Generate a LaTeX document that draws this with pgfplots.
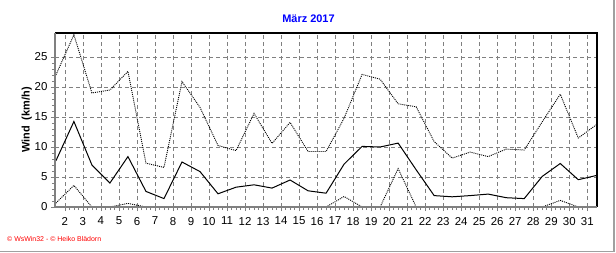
\documentclass[border=0pt]{standalone}
\usepackage{fontspec}
\setmainfont{Liberation Sans}
\usepackage{pgfplots}
\pgfplotsset{compat=1.18}
\definecolor{gridgray}{RGB}{128,128,128}
\definecolor{axgray}{RGB}{128,128,128}
\definecolor{framegray}{RGB}{160,160,160}
\definecolor{titleblue}{RGB}{0,0,255}
\definecolor{footred}{RGB}{255,0,0}
\pgfplotstableread{
x max mean min
1.5 22.0 7.7 0.65
2.5 28.7 14.25 3.6
3.5 19.0 7.0 0
4.5 19.5 4.0 0
5.5 22.6 8.4 0.6
6.5 7.3 2.6 0
7.5 6.6 1.4 0
8.5 20.9 7.5 0
9.5 16.6 5.9 0
10.5 10.25 2.2 0
11.5 9.4 3.3 0
12.5 15.6 3.7 0
13.5 10.6 3.15 0
14.5 14.1 4.5 0
15.5 9.25 2.7 0
16.5 9.25 2.3 0
17.5 14.8 7.15 1.75
18.5 22.1 10.1 0
19.5 21.3 10.0 0
20.5 17.2 10.65 6.4
21.5 16.7 6.2 0
22.5 10.9 1.9 0
23.5 8.15 1.7 0
24.5 9.15 1.9 0
25.5 8.4 2.15 0
26.5 9.65 1.55 0
27.5 9.5 1.4 0
28.5 14.2 5.1 0
29.5 18.8 7.25 1.1
30.5 11.5 4.55 0
31.5 13.7 5.25 0
}\windtable
\begin{document}
\begin{tikzpicture}
\path[use as bounding box] (0bp,0bp) rectangle (616bp,253bp);
\draw[framegray, line width=1.5bp] (0bp,1.5bp) -- (614bp,1.5bp) -- (614bp,253bp);
\begin{axis}[
  at={(55bp,220bp)}, anchor=north west,
  scale only axis, width=542bp, height=174bp,
  xmin=1.45, xmax=31.54, ymin=0, ymax=29,
  xtick={2,...,31}, ytick={0,5,...,25},
  minor x tick num=3, minor y tick num=4,
  grid=major,
  major grid style={gridgray, dash pattern=on 4bp off 3bp, line width=0.8bp},
  axis line style={draw=none},
  tick align=outside,
  major tick length=4bp, minor tick length=3bp,
  tick style={axgray, line width=0.8bp},
  xtick pos=bottom, ytick pos=left,
  /pgf/number format/assume math mode=true,
  tick label style={font=\fontsize{11.5}{13}\selectfont},
  xticklabel style={yshift=-2.5bp},
  yticklabel style={xshift=0bp},
  clip=false,
]
\addplot[black, line width=0.9bp, dash pattern=on 1bp off 1bp] table[x=x,y=max] {\windtable};
\addplot[black, line width=1bp] table[x=x,y=mean] {\windtable};
\addplot[black, line width=0.9bp, dash pattern=on 1bp off 1bp] table[x=x,y=min] {\windtable};
\draw[black, line width=1.2bp] (rel axis cs:0,1) -- (rel axis cs:1,1) -- (rel axis cs:1,0);
\draw[axgray, line width=2.5bp] (rel axis cs:0,1) -- (rel axis cs:0,0) -- (rel axis cs:1,0);
\end{axis}
\node[font=\bfseries\fontsize{11}{13}\selectfont, text=titleblue] at (308.5bp,234bp) {März 2017};
\node[font=\bfseries\fontsize{11}{13}\selectfont, rotate=90] at (26.7bp,133bp) {Wind~~(km/h)};
\node[font=\fontsize{7}{8}\selectfont, text=footred, anchor=west, inner sep=0pt] at (7bp,14bp) {© WsWin32 - © Heiko Blädorn};
\end{tikzpicture}
\end{document}
